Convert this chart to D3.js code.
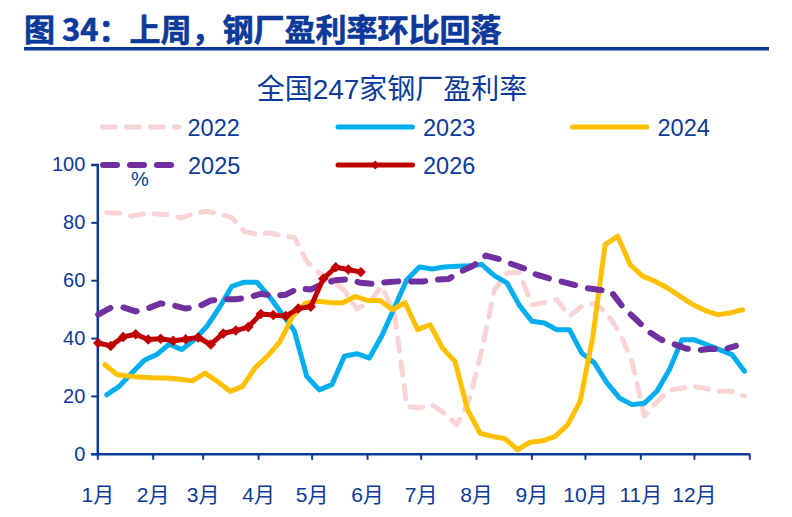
<!DOCTYPE html>
<html>
<head>
<meta charset="utf-8">
<style>
  body { margin: 0; background: #fff; }
  svg text { font-family: "Liberation Sans", Arial, "Noto Sans CJK SC", sans-serif; fill: #0b3a9a; }
  .title { font-family: "Noto Sans CJK SC", sans-serif; font-weight: bold; }
  .sub { font-family: "Liberation Sans", "Noto Sans CJK SC", sans-serif; }
</style>
</head>
<body>
<svg width="792" height="517"></svg>
<script src="https://d3js.org/d3.v7.min.js"></script>
<script>
// weekly values
var years = ["2022", "2023", "2024", "2025", "2026"];
var v2022 = [83.3, 83.2, 82.1, 83, 82.9, 82.6, 81.5, 83.2, 83.8, 83, 81.6, 76.9, 75.8, 76.4, 75.3, 74.8,
             66.5, 62.5, 60, 56.5, 50, 52.5, 57.9, 48.5, 16.4, 15.8, 17, 14, 10, 18.7, 36, 56.7,
             62.5, 62.7, 51.5, 52.3, 53.3, 47.6, 51, 52, 48.5, 42, 32, 13, 18, 22, 22.7, 23.2,
             22.5, 21.6, 21.6, 20];
var v2023 = [20.4, 23.3, 27.9, 32.3, 34.3, 37.9, 36, 39.4, 44, 50.5, 57.9, 59.3, 59.3, 54.4, 48.5, 42.5,
             26.7, 22.1, 23.9, 33.7, 34.6, 33.1, 40.8, 50.5, 60.2, 64.6, 63.9, 64.6, 64.8, 65, 65.4, 61.6,
             59.1, 51.3, 45.8, 45.2, 42.9, 42.9, 34.8, 31.4, 24.5, 19.3, 17, 17.5, 21.6, 29.1, 39.4, 39.4,
             37.7, 36, 34.3, 28.5];
var v2024 = [30.8, 27.3, 26.8, 26.5, 26.2, 26.2, 25.8, 25.2, 27.9, 25, 21.6, 23.3, 29.7, 33.8, 38.8, 47.5,
             52, 52.7, 52.3, 52.1, 54.4, 53, 53, 49.8, 52.3, 42.9, 44.6, 36.5, 31.9, 15.2, 7.1, 6,
             5.2, 1.4, 4, 4.5, 6, 10, 18.1, 40, 72.3, 75.2, 65.4, 61.4, 59.6, 57.3, 54.4, 51.6,
             49.5, 48.1, 48.7, 49.8];
var v2025 = [48.1, 50.5, 50.6, 49.2, 50.3, 52, 51.3, 50.2, 50.8, 53, 53.4, 53.4, 54, 55.3, 54.6, 55,
             57.2, 56.8, 58.8, 60, 60.3, 59.1, 58.7, 59.3, 59.6, 59.6, 59.6, 60.2, 60.4, 63, 65, 68.5,
             67.4, 65.7, 64.2, 62, 60.7, 59.6, 58.5, 57.3, 56.7, 56.2, 50.5, 46.5, 42.3, 39.5, 38, 36.4,
             35.8, 36.3, 36, 37.3];
var v2026 = [38.3, 37.3, 40.4, 41.3, 39.5, 39.8, 39.1, 39.6, 40.2, 37.8, 41.6, 42.6, 43.8, 48.3, 48, 47.6,
             50.2, 50.8, 60.5, 64.5, 63.7, 62.8];
// first week's day offset in the year
var startDay = [5.3, 5.3, 4.3, 0.5, 0.5];
var months = ["1月", "2月", "3月", "4月", "5月", "6月", "7月", "8月", "9月", "10月", "11月", "12月"];
var yTicks = [0, 20, 40, 60, 80, 100];

var colors = ["#f9d4d4", "#00aeef", "#ffc000", "#7030a0", "#c00000"];
var widths = [5, 5, 5, 6, 5];
var dashes = ["13,11", null, null, "14,13", null];
var values = [v2022, v2023, v2024, v2025, v2026];

var svg = d3.select("svg");
var axisColor = "#0b3a9a";

var base = new Date(2026, 0, 1);
var x = d3.scaleTime().domain([base, new Date(2027, 0, 1)]).range([97.3, 749.3]);
var y = d3.scaleLinear().domain([0, 100]).range([453.8, 164.5]);

function dayDate(d) { return new Date(base.getTime() + d * 864e5); }

// title
svg.append("text").attr("class", "title")
    .attr("x", 24).attr("y", 41)
    .style("font-size", "31px")
    .attr("stroke", "#0b3496").attr("stroke-width", 0.6)
    .text("图 34：上周，钢厂盈利率环比回落");
svg.append("rect").attr("x", 24).attr("y", 47).attr("width", 745).attr("height", 3.5)
    .attr("fill", "#0b3496");

svg.append("text").attr("class", "sub")
    .attr("x", 392).attr("y", 99).attr("text-anchor", "middle")
    .style("font-size", "28px")
    .text("全国247家钢厂盈利率");

// axes
var monthStarts = d3.range(13).map(function(i) { return new Date(2026, i, 1); });
var xAxis = svg.append("g").attr("transform", "translate(0," + y(0) + ")")
    .call(d3.axisBottom(x).tickValues(monthStarts).tickSize(6).tickSizeOuter(0).tickPadding(27)
        .tickFormat(function(d, i) { return i < 12 ? months[i] : ""; }));
var yAxis = svg.append("g").attr("transform", "translate(" + x(base) + ",0)")
    .call(d3.axisLeft(y).tickValues(yTicks).tickSize(6).tickSizeOuter(6).tickPadding(6));

[xAxis, yAxis].forEach(function(g) {
    g.select(".domain").attr("stroke", axisColor).attr("stroke-width", 2.5);
    g.selectAll(".tick line").attr("stroke", axisColor).attr("stroke-width", 2);
    g.selectAll(".tick text").attr("fill", axisColor).style("font-size", "20px");
});
xAxis.selectAll(".tick text").style("font-size", "21px").attr("dy", "0.71em");

svg.append("text").attr("x", 140).attr("y", 186).attr("text-anchor", "middle")
    .style("font-size", "20px").text("%");

// lines
var line = d3.line()
    .x(function(d) { return x(d.date); })
    .y(function(d) { return y(d.v); });

values.forEach(function(vals, k) {
    var pts = vals.map(function(v, i) { return { date: dayDate(startDay[k] + i * 7), v: v }; });
    svg.append("path").datum(pts)
        .attr("d", line)
        .attr("fill", "none")
        .attr("stroke", colors[k])
        .attr("stroke-width", widths[k])
        .attr("stroke-linejoin", "round")
        .attr("stroke-linecap", "round")
        .attr("stroke-dasharray", dashes[k]);
    if (k === 4) {
        svg.append("g").selectAll("path").data(pts).enter().append("path")
            .attr("d", d3.symbol(d3.symbolSquare, 55))
            .attr("transform", function(d) { return "translate(" + x(d.date) + "," + y(d.v) + ") rotate(45)"; })
            .attr("fill", colors[k]);
    }
});

// legend
var legendPos = [[102.5, 127], [338, 127], [572.5, 127], [103, 165], [338, 165]];
years.forEach(function(yr, k) {
    var p = legendPos[k];
    var len = dashes[k] ? (k === 0 ? 76 : 68) : 74.5;
    var g = svg.append("g");
    g.append("line").attr("x1", p[0]).attr("x2", p[0] + len).attr("y1", p[1]).attr("y2", p[1])
        .attr("stroke", colors[k]).attr("stroke-width", widths[k])
        .attr("stroke-linecap", "round").attr("stroke-dasharray", dashes[k]);
    if (k === 4) {
        g.append("path").attr("d", d3.symbol(d3.symbolSquare, 40))
            .attr("transform", "translate(" + (p[0] + len / 2) + "," + p[1] + ") rotate(45)")
            .attr("fill", colors[k]);
    }
    g.append("text").attr("x", p[0] + 85).attr("y", p[1] + 8.5)
        .style("font-size", "23.5px").text(yr);
});
</script>
</body>
</html>
